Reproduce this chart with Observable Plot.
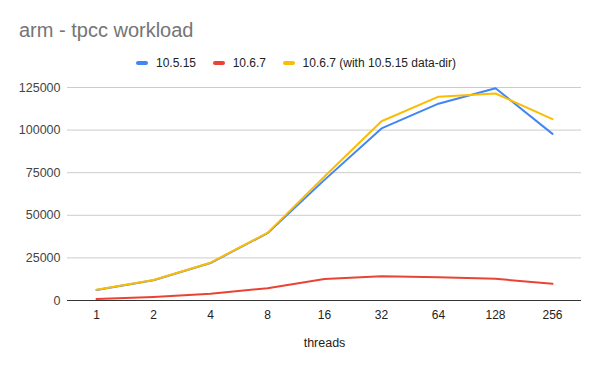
<!DOCTYPE html>
<html>
<head>
<meta charset="utf-8">
<script src="https://cdn.jsdelivr.net/npm/d3@7"></script>
<script src="https://cdn.jsdelivr.net/npm/@observablehq/plot@0.6"></script>
<style>
  html, body { margin: 0; padding: 0; background: #fff; }
  #wrap { position: relative; width: 600px; height: 371px; font-family: Arial, "Liberation Sans", sans-serif; }
  #title { position: absolute; left: 19px; top: 19px; font-size: 20px; color: #757575; white-space: nowrap; }
  #legend { position: absolute; left: -4px; top: 56px; width: 600px; display: flex; justify-content: center; align-items: center; font-size: 12px; color: #222; }
  .item { display: flex; align-items: center; margin: 0 8.3px; }
  .sw { width: 12px; height: 4px; border-radius: 2px; margin-right: 8px; }
  svg { position: absolute; left: 0; top: 0; }
</style>
</head>
<body>
<div id="wrap">
  <div id="chart"></div>
  <div id="title">arm - tpcc workload</div>
  <div id="legend"></div>
</div>
<script>
const threads = ["1", "2", "4", "8", "16", "32", "64", "128", "256"];
const seriesNames = ["10.5.15", "10.6.7", "10.6.7 (with 10.5.15 data-dir)"];
const seriesColors = ["#4285F4", "#EA4335", "#FBBC04"];
const v10515 = [6200, 11900, 22000, 39500, 70800, 101000, 115500, 124600, 97800];
const v1067 = [900, 2100, 4000, 7200, 12600, 14200, 13700, 12700, 9800];
const v1067data = [6300, 12000, 22200, 39700, 72800, 105200, 119600, 121500, 106400];
const yTicks = [0, 25000, 50000, 75000, 100000, 125000];

const allSeries = [v10515, v1067, v1067data];
const data = [];
allSeries.forEach((vals, si) => {
  vals.forEach((v, i) => data.push({ threads: threads[i], value: v, series: seriesNames[si] }));
});

// legend
const legend = document.getElementById("legend");
seriesNames.forEach((n, i) => {
  const it = document.createElement("div");
  it.className = "item";
  const sw = document.createElement("div");
  sw.className = "sw";
  sw.style.background = seriesColors[i];
  const t = document.createElement("span");
  t.textContent = n;
  it.appendChild(sw); it.appendChild(t);
  legend.appendChild(it);
});

const chart = Plot.plot({
  width: 600,
  height: 371,
  marginTop: 87,
  marginBottom: 71,
  marginLeft: 67,
  marginRight: 19,
  style: { fontFamily: "Arial, 'Liberation Sans', sans-serif", fontSize: "12px", color: "#222", background: "transparent" },
  x: { type: "point", domain: threads, padding: 0.5, label: null },
  y: { domain: [0, 125000], label: null },
  color: { domain: seriesNames, range: seriesColors },
  marks: [
    Plot.gridY(yTicks, { stroke: "#cccccc", strokeOpacity: 1 }),
    Plot.axisY(yTicks, { tickSize: 0, tickPadding: 7, tickFormat: d3.format("d"), fill: "#444", fontSize: 12.5 }),
    Plot.axisX(threads, { tickSize: 0, tickPadding: 10, fill: "#222", fontSize: 12, label: null }),
    Plot.ruleY([0], { stroke: "#333", strokeWidth: 1 }),
    Plot.line(data, { x: "threads", y: "value", z: "series", stroke: "series", strokeWidth: 2 }),
    Plot.text(["threads"], { frameAnchor: "bottom", dy: 46, text: d => d, fill: "#222", fontSize: 12.5 })
  ]
});
document.getElementById("chart").appendChild(chart);
</script>
</body>
</html>
